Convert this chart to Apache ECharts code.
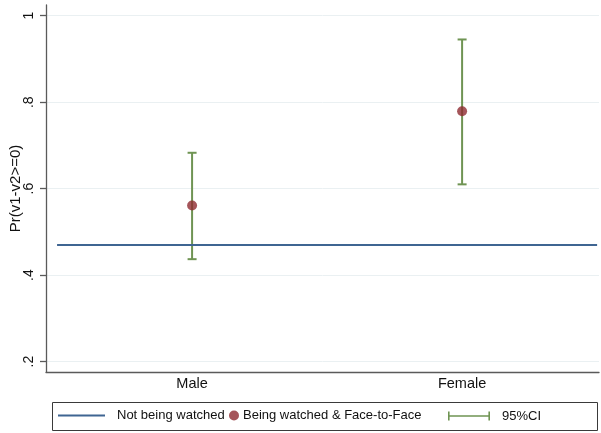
<!DOCTYPE html>
<html>
<head>
<meta charset="utf-8">
<script src="https://cdn.jsdelivr.net/npm/echarts@6/dist/echarts.min.js"></script>
<style>
html,body{margin:0;padding:0;background:#fff;}
#chart{width:601px;height:433px;}
</style>
</head>
<body>
<div id="chart"></div>
<script>
// ---- data ----
var categories = ['Male', 'Female'];
var categoryPositions = [1, 2];
var estimates = [0.561, 0.779];
var ciLow = [0.437, 0.610];
var ciHigh = [0.683, 0.945];
var baselineValue = 0.47;
var baselineSpan = [0.5, 2.5];
var yTicks = [0.2, 0.4, 0.6, 0.8, 1];
var yTickLabels = ['.2', '.4', '.6', '.8', '1'];
var seriesNames = ['Not being watched', 'Being watched & Face-to-Face', '95%CI'];
var yTitle = 'Pr(v1-v2>=0)';

var FONT = '"Liberation Sans", Arial, Helvetica, sans-serif';
var BLUE = '#3f6592', RED = '#8f2b31', GREEN = '#6f9453';

var scatterData = categoryPositions.map(function (x, i) { return [x, estimates[i]]; });
var ciData = categoryPositions.map(function (x, i) { return [x, ciLow[i], ciHigh[i]]; });
var lineData = baselineSpan.map(function (x) { return [x, baselineValue]; });

var LEG_CY = 414;

var chart = echarts.init(document.getElementById('chart'), null, {renderer: 'canvas'});
chart.setOption({
  backgroundColor: '#fff',
  animation: false,
  grid: {left: 46, right: 2, top: 5, bottom: 61, containLabel: false, outerBoundsMode: 'none'},
  xAxis: {
    type: 'value', min: 0.459, max: 2.507,
    axisLine: {show: true, lineStyle: {color: '#5a5a5a', width: 1.3}},
    axisTick: {show: false, customValues: categoryPositions},
    splitLine: {show: false},
    axisLabel: {
      customValues: categoryPositions,
      formatter: function (v) { var i = categoryPositions.indexOf(v); return i >= 0 ? categories[i] : ''; },
      fontFamily: FONT, fontSize: 14.5, color: '#111', margin: 4
    }
  },
  yAxis: {
    type: 'value', min: 0.1761, max: 1.0247,
    name: yTitle, nameLocation: 'middle', nameGap: 23, nameRotate: 90, nameMoveOverlap: false,
    nameTextStyle: {fontFamily: FONT, fontSize: 15, color: '#111'},
    axisLine: {show: true, lineStyle: {color: '#5a5a5a', width: 1.3}},
    axisTick: {show: true, inside: false, length: 6, customValues: yTicks, lineStyle: {color: '#5a5a5a', width: 1.3}},
    splitLine: {show: true, lineStyle: {color: '#eaf0f2', width: 1}},
    axisLabel: {
      customValues: yTicks, rotate: 90, margin: 10,
      formatter: function (v) {
        for (var i = 0; i < yTicks.length; i++) { if (Math.abs(yTicks[i] - v) < 1e-6) return yTickLabels[i]; }
        return '';
      },
      fontFamily: FONT, fontSize: 14, color: '#111'
    }
  },
  legend: [
    {
      left: 58, top: LEG_CY - 5, itemWidth: 47, itemHeight: 2, padding: 0,
      data: [{name: seriesNames[0], icon: 'path://M0,0h47v2h-47z', itemStyle: {color: BLUE}}],
      textStyle: {fontFamily: FONT, fontSize: 13, color: '#111', padding: [0, 0, 0, 7]},
      selectedMode: false
    },
    {
      left: 229, top: LEG_CY - 5, itemWidth: 10, itemHeight: 10, padding: 0,
      data: [{name: seriesNames[1], icon: 'circle'}],
      textStyle: {fontFamily: FONT, fontSize: 13, color: '#111', padding: [0, 0, 0, -1]},
      selectedMode: false
    },
    {
      left: 448, top: LEG_CY - 4.5, itemWidth: 42, itemHeight: 9, padding: 0,
      data: [{name: seriesNames[2], icon: 'path://M0,0h1.6v9h-1.6z M0,3.7h42v1.6h-42z M40.4,0h1.6v9h-1.6z', itemStyle: {color: GREEN}}],
      textStyle: {fontFamily: FONT, fontSize: 13, color: '#111', padding: [0, 0, 0, 7]},
      selectedMode: false
    }
  ],
  graphic: [{
    type: 'rect', silent: true,
    shape: {x: 52.5, y: 402.5, width: 545, height: 28},
    style: {fill: 'none', stroke: '#3a3a3a', lineWidth: 1}
  }],
  series: [
    {
      name: seriesNames[0], type: 'line', data: lineData, symbol: 'none',
      lineStyle: {color: BLUE, width: 2}, itemStyle: {color: BLUE}
    },
    {
      name: seriesNames[1], type: 'scatter', data: scatterData, symbol: 'circle', symbolSize: 10,
      itemStyle: {color: RED}
    },
    {
      name: seriesNames[2], type: 'custom', data: ciData,
      itemStyle: {color: GREEN},
      encode: {x: 0, y: [1, 2]},
      renderItem: function (params, api) {
        var x = api.value(0);
        var lo = api.coord([x, api.value(1)]);
        var hi = api.coord([x, api.value(2)]);
        var hw = 4.5;
        var st = {stroke: GREEN, lineWidth: 2, fill: 'none'};
        return {
          type: 'group',
          children: [
            {type: 'line', shape: {x1: lo[0], y1: lo[1], x2: hi[0], y2: hi[1]}, style: st},
            {type: 'line', shape: {x1: lo[0] - hw, y1: lo[1], x2: lo[0] + hw, y2: lo[1]}, style: st},
            {type: 'line', shape: {x1: hi[0] - hw, y1: hi[1], x2: hi[0] + hw, y2: hi[1]}, style: st}
          ]
        };
      }
    }
  ]
});
</script>
</body>
</html>
